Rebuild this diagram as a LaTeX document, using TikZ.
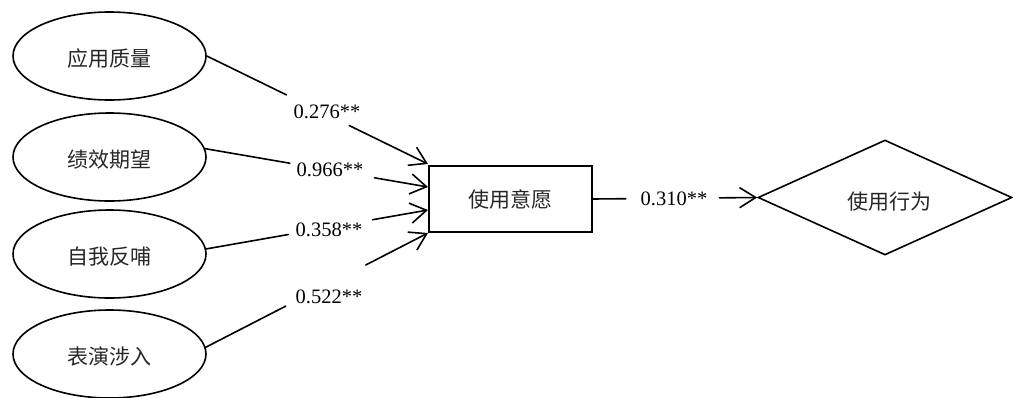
\documentclass[tikz,border=0pt]{standalone}
\usepackage{fontspec}
\setmainfont{Liberation Serif}
\newfontfamily\cjk{Noto Sans CJK SC}
\usetikzlibrary{shapes.geometric,arrows.meta,calc}
\begin{document}
\begin{tikzpicture}[x=1pt,y=-1pt,
  cjktext/.style={font=\cjk\fontsize{21}{24}\selectfont, text=black!85},
  ell/.style={ellipse, draw, line width=1.6pt, minimum width=193pt, minimum height=88pt, inner sep=0pt, cjktext, text height=23pt, text depth=3pt},
  boxnode/.style={draw, line width=2pt, minimum width=163pt, minimum height=66pt, inner sep=0pt, cjktext},
  dia/.style={diamond, draw, line width=1.6pt, minimum width=254pt, minimum height=115pt, shape aspect=2.2, inner sep=0pt, cjktext, text height=26pt, text depth=3pt},
  lab/.style={font=\fontsize{20.5}{24}\selectfont, inner sep=0pt},
  conn/.style={line width=1.6pt, line cap=round},
  arr/.style={conn, -{Straight Barb[angle=64:19pt]}}
]
\useasboundingbox (0,0) rectangle (1013,397);

\node[ell] (e1) at (109.5,56) {应用质量};
\node[ell] (e2) at (109.5,157) {绩效期望};
\node[ell] (e3) at (109.5,254) {自我反哺};
\node[ell] (e4) at (109.5,354) {表演涉入};
\node[boxnode] (r) at (510.5,199) {使用意愿};
\node[dia] (d) at (885,197.5) {\hspace*{8pt}使用行为};

\coordinate (t1) at ($(r.west)+(0,-35)$);
\coordinate (t2) at ($(r.west)+(0,-12)$);
\coordinate (t3) at ($(r.west)+(0,11)$);
\coordinate (t4) at ($(r.west)+(0,34)$);

\path (e1.east) -- (t1) coordinate[pos=0.36] (a1) coordinate[pos=0.644] (b1);
\draw[conn] (e1.east) -- (a1);
\draw[arr] (b1) -- (t1);
\node[lab] (l1) at (327,112) {0.276**};

\path (e2.5) -- (t2) coordinate[pos=0.38] (a2) coordinate[pos=0.76] (b2);
\draw[conn] (e2.5) -- (a2);
\draw[arr] (b2) -- (t2);
\node[lab] (l2) at (330,170) {0.966**};

\path (e3.3) -- (t3) coordinate[pos=0.37] (a3) coordinate[pos=0.75] (b3);
\draw[conn] (e3.3) -- (a3);
\draw[arr] (b3) -- (t3);
\node[lab] (l3) at (329,230) {0.358**};

\path (e4.4) -- (t4) coordinate[pos=0.36] (a4) coordinate[pos=0.72] (b4);
\draw[conn] (e4.4) -- (a4);
\draw[arr] (b4) -- (t4);
\node[lab] (l4) at (329,297) {0.522**};

\path (r.east) -- (d.west) coordinate[pos=0.2] (a5) coordinate[pos=0.77] (b5);
\draw[conn] (r.east) -- (a5);
\draw[arr] (b5) -- (d.west);
\node[lab] (l5) at (674,199) {0.310**};
\end{tikzpicture}
\end{document}
